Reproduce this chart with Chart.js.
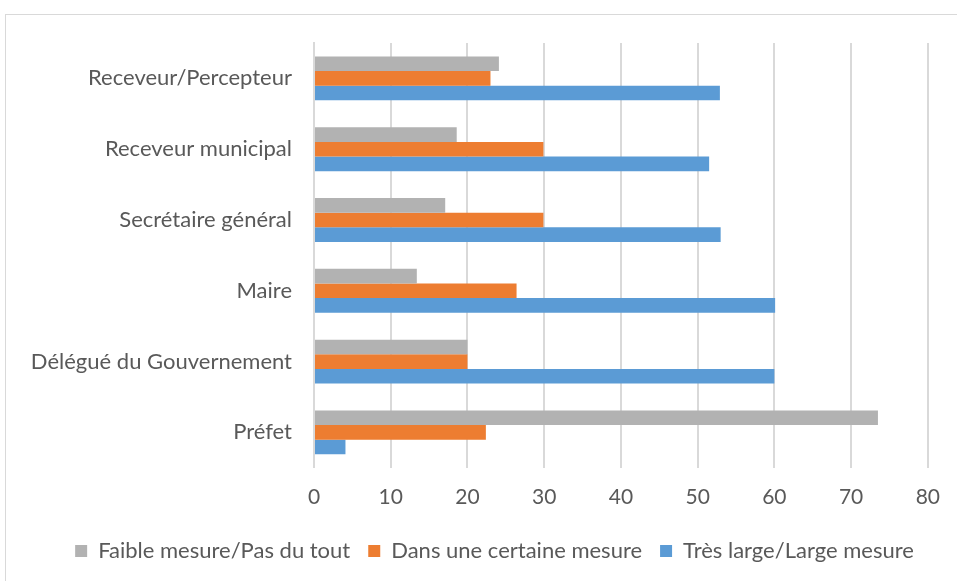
<!DOCTYPE html>
<html lang="fr">
  <head>
    <meta charset="UTF-8" />
    <title>Mesure par acteur</title>
    <script src="https://cdn.jsdelivr.net/npm/chart.js"></script>
    <style>
      body { margin: 0; background: #fff; }
      .frame {
        position: absolute; left: 5px; top: 14px;
        width: 1000px; height: 600px;
        border: 1px solid #d9d9d9;
      }
      .wrap { position: absolute; left: 0; top: 0; width: 957px; height: 581px; }
    </style>
  </head>
  <body>
    <div class="frame"></div>
    <div class="wrap"><canvas id="chart"></canvas></div>
    <script>
      const categories = [
        "Receveur/Percepteur",
        "Receveur municipal",
        "Secrétaire général",
        "Maire",
        "Délégué du Gouvernement",
        "Préfet",
      ];
      const faible = [24.1, 18.6, 17.1, 13.4, 20.0, 73.5];
      const certaine = [23.0, 29.9, 29.9, 26.4, 20.0, 22.4];
      const large = [52.9, 51.5, 53.0, 60.1, 60.0, 4.1];
      const xTicks = [0, 10, 20, 30, 40, 50, 60, 70, 80];

      const font = "Lato, 'Open Sans', sans-serif";
      const textColor = "#595959";

      // nudge the legend so it sits centred under the whole frame like the original
      const legendShift = {
        id: "legendShift",
        afterLayout(chart) {
          const lg = chart.legend;
          lg.left += 30; lg.right += 30;
          lg.top -= 5; lg.bottom -= 5;
        },
      };

      new Chart(document.getElementById("chart"), {
        type: "bar",
        data: {
          labels: categories,
          datasets: [
            { label: "Faible mesure/Pas du tout", data: faible, backgroundColor: "#b2b2b2" },
            { label: "Dans une certaine mesure", data: certaine, backgroundColor: "#ed7d31" },
            { label: "Très large/Large mesure", data: large, backgroundColor: "#5b9bd5" },
          ],
        },
        options: {
          indexAxis: "y",
          responsive: true,
          maintainAspectRatio: false,
          animation: false,
          datasets: { bar: { categoryPercentage: 0.62, barPercentage: 1.0 } },
          layout: { padding: { left: 0, right: 28, top: 43, bottom: 4 } },
          plugins: {
            legend: {
              position: "bottom",
              labels: {
                color: textColor,
                font: { family: font, size: 22 },
                boxWidth: 12,
                boxHeight: 12,
                padding: 18,
              },
            },
            tooltip: { enabled: false },
          },
          scales: {
            x: {
              min: 0,
              max: 80,
              afterBuildTicks: (scale) => {
                scale.ticks = xTicks.map((v) => ({ value: v }));
              },
              grid: { color: "#d9d9d9", lineWidth: 2, drawTicks: false },
              border: { display: false },
              ticks: { color: textColor, font: { family: font, size: 21 }, padding: 17 },
            },
            y: {
              afterFit: (scale) => { scale.width = 314; },
              grid: { display: false, drawTicks: false },
              border: { color: "#d9d9d9", width: 2 },
              ticks: { color: textColor, font: { family: font, size: 22 }, padding: 22 },
            },
          },
        },
        plugins: [legendShift],
      });
    </script>
  </body>
</html>
